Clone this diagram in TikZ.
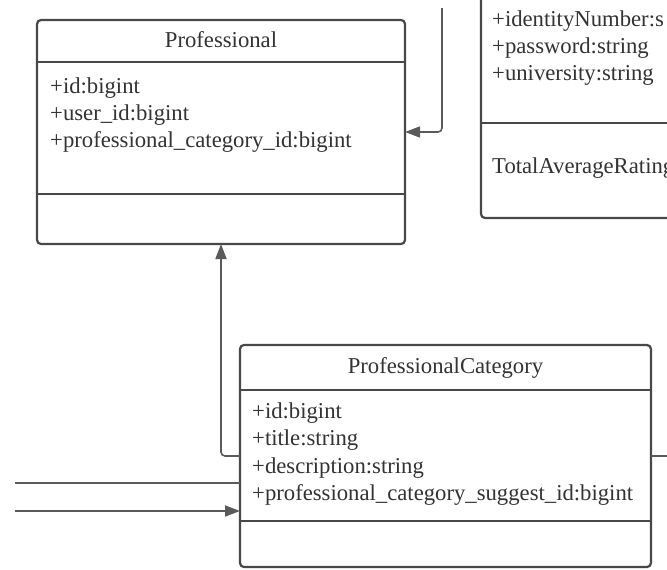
\documentclass[tikz,border=0pt]{standalone}
\usepackage{fontspec}
\setmainfont{Liberation Serif}
\usetikzlibrary{arrows.meta}
\definecolor{boxline}{HTML}{484848}
\definecolor{conline}{HTML}{5A5A5A}
\definecolor{txt}{HTML}{333333}
\begin{document}
\begin{tikzpicture}[x=1pt,y=-1pt,
  umlbox/.style={draw=boxline, line width=2.2pt, rounded corners=4pt, inner sep=0pt, outer sep=0pt, fill=white},
  divider/.style={draw=boxline, line width=2.2pt},
  conn/.style={draw=conline, line width=1.6pt, rounded corners=4pt},
  tip/.style={-{Triangle[length=15pt,width=11pt]}},
  title/.style={font=\fontsize{22.7}{27}\selectfont, text=txt, anchor=base, inner sep=0pt},
  attr/.style={font=\fontsize{22.7}{27}\selectfont, text=txt, anchor=base west, inner sep=0pt}]
\clip (0,0) rectangle (667,570);
\fill[white] (0,0) rectangle (667,570);
% Professional
\node[umlbox, minimum width=368pt, minimum height=224pt] (prof) at (221,132) {};
\draw[divider] (37,62) -- (405,62);
\draw[divider] (37,194) -- (405,194);
\node[title] (proft) at (221,47) {Professional};
\node[attr] (pa1) at (50,93) {+id:bigint};
\node[attr] (pa2) at (50,120) {+user\_id:bigint};
\node[attr] (pa3) at (50,147) {+professional\_category\_id:bigint};
% partial box on the right
\node[umlbox, minimum width=260pt, minimum height=268pt, anchor=south west] (user) at (481,218) {};
\draw[divider] (481,123) -- (741,123);
\node[attr] (ua1) at (492,26) {+identityNumber:s};
\node[attr] (ua2) at (492,53) {+password:string};
\node[attr] (ua3) at (492,80) {+university:string};
\node[attr] (um1) at (492,173) {TotalAverageRating};
% ProfessionalCategory
\node[umlbox, minimum width=411pt, minimum height=222pt] (pc) at (445.5,456) {};
\draw[divider] (240,390) -- (651,390);
\draw[divider] (240,521) -- (651,521);
\node[title] (pct) at (445.5,373) {ProfessionalCategory};
\node[attr] (pc1) at (252,418) {+id:bigint};
\node[attr] (pc2) at (252,445) {+title:string};
\node[attr] (pc3) at (252,473) {+description:string};
\node[attr] (pc4) at (252,500) {+professional\_category\_suggest\_id:bigint};
% connectors
\coordinate (c1) at (442,8);
\draw[conn,tip] (c1) |- (prof.east);
\draw[conn,tip] (pc.west) -| (prof.south);
\coordinate (c3) at (680,456);
\draw[conn] (pc.east) -- (c3);
\coordinate (c4) at (15,483);
\coordinate (c5) at (15,511);
\draw[conn] (c4) -- (c4 -| pc.west);
\draw[conn,tip] (c5) -- (c5 -| pc.west);
\end{tikzpicture}
\end{document}
